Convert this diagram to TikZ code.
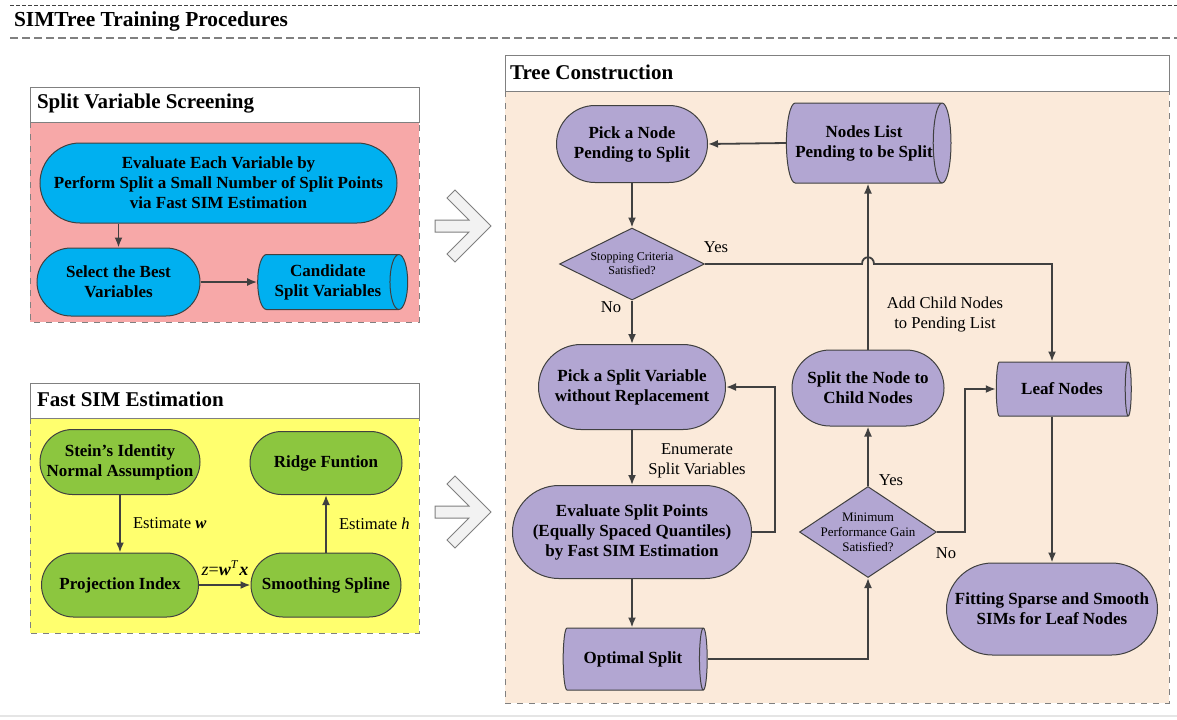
\documentclass[tikz,border=0pt]{standalone}
\usepackage{fontspec}
\setmainfont{Liberation Serif}
\usetikzlibrary{shapes.geometric,shapes.misc,arrows.meta}
\definecolor{pinkbg}{RGB}{247,168,168}
\definecolor{yellowbg}{RGB}{255,255,110}
\definecolor{peachbg}{RGB}{251,234,218}
\definecolor{cyanfill}{RGB}{0,176,240}
\definecolor{greenfill}{RGB}{140,198,63}
\definecolor{lavfill}{RGB}{178,166,210}
\definecolor{linegray}{RGB}{64,64,64}
\tikzset{
  box/.style={draw=linegray,line width=0.5pt,align=center,inner sep=0pt,
    font=\fontsize{8.5}{10}\selectfont\bfseries},
  term/.style={box,rounded rectangle},
  store/.style={box,cylinder,aspect=0.5},
  decide/.style={box,diamond,fill=lavfill,inner sep=-2pt,font=\fontsize{6}{7}\selectfont},
  lbl/.style={align=center,font=\fontsize{8.3}{10}\selectfont},
  ptitle/.style={anchor=west,font=\fontsize{10.5}{12}\selectfont\bfseries},
  link/.style={draw=linegray,line width=0.9pt},
}
\begin{document}
\begin{tikzpicture}[x=0.5pt,y=-0.5pt,>={Latex[length=5pt,width=4pt]}]
\useasboundingbox (0,0) rectangle (1177,719);
% heading
\draw[linegray,line width=0.4pt,dash pattern=on 2pt off 1pt] (10,5) -- (1177,5);
\node[anchor=west,font=\fontsize{10.7}{12}\selectfont\bfseries] (maintitle) at (7,21) {SIMTree Training Procedures};
\draw[gray,line width=0.7pt,dash pattern=on 4pt off 2pt] (10,38) -- (1177,38);
\draw[gray!20,line width=1pt] (0,716) -- (1177,716);
% panels
\fill[pinkbg] (30,122) rectangle (419,322);
\draw[gray,line width=0.5pt,dashed] (30,122) rectangle (419,322);
\draw[gray,line width=0.5pt,fill=white] (30,87) rectangle (419,122);
\node[ptitle] (svs) at (30,104) {Split Variable Screening};
\fill[yellowbg] (30,418) rectangle (419,633);
\draw[gray,line width=0.5pt,dashed] (30,418) rectangle (419,633);
\draw[gray,line width=0.5pt,fill=white] (30,383) rectangle (419,418);
\node[ptitle] (fse) at (30,399) {Fast SIM Estimation};
\fill[peachbg] (505,91) rectangle (1169,703);
\draw[gray,line width=0.5pt,dashed] (505,91) rectangle (1169,703);
\draw[gray,line width=0.5pt,fill=white] (505,55) rectangle (1169,91);
\node[ptitle] (tc) at (503,72) {Tree Construction};
% big arrows
\foreach \c in {226,512}
  \draw[gray,line width=0.5pt,fill=gray!10] (435,\c) ++(0,-6) -- ++(34,0) -- ++(-22,-22) -- ++(8,-8)
    -- ++(36,36) -- ++(-36,36) -- ++(-8,-8) -- ++(22,-22) -- ++(-34,0) -- cycle;
% split variable screening
\node[term,fill=cyanfill,minimum width=178.5pt,minimum height=40pt] (evalvar) at (218.5,183)
  {Evaluate Each Variable by\\Perform Split a Small Number of Split Points\\via Fast SIM Estimation};
\node[term,fill=cyanfill,minimum width=81.5pt,minimum height=34pt] (best) at (118.5,282) {Select the Best\\Variables};
\node[store,fill=cyanfill,minimum height=75pt,minimum width=27.5pt] (cand) at (328,282) {Candidate\\Split Variables};
\draw[link,->] (evalvar.south -| best.north) -- (best.north);
\draw[link,->] (best.east) -- (cand.west);
% fast SIM estimation
\node[term,fill=greenfill,minimum width=80pt,minimum height=32.5pt] (stein) at (120,462) {Stein's Identity\\Normal Assumption};
\node[term,fill=greenfill,minimum width=76pt,minimum height=31.5pt] (ridge) at (326,463) {Ridge Funtion};
\node[term,fill=greenfill,minimum width=78.5pt,minimum height=32pt] (proj) at (120,585) {Projection Index};
\node[term,fill=greenfill,minimum width=75pt,minimum height=32pt] (smooth) at (326,585) {Smoothing Spline};
\draw[link,->] (stein.south) -- (proj.north);
\draw[link,->] (smooth.north) -- (ridge.south);
\draw[link,->] (proj.east) -- (smooth.west);
\node[lbl,anchor=west] (estw) at (126,523) {Estimate \textbf{\textit{w}}};
\node[lbl,anchor=west] (esth) at (332,524) {Estimate \textit{h}};
\node[lbl,font=\fontsize{9}{10}\selectfont] (zwx) at (225,568) {\textit{z}=\textbf{\textit{w}}\textsuperscript{\textit{T}}\textbf{\textit{x}}};
% tree construction
\node[term,fill=lavfill,minimum width=75.5pt,minimum height=38.5pt] (picknode) at (632,144) {Pick a Node\\Pending to Split};
\node[store,fill=lavfill,minimum height=81pt,minimum width=40pt] (pendlist) at (864,143) {Nodes List\\Pending to be Split};
\node[decide,aspect=2,minimum width=72.5pt,minimum height=36pt] (stop) at (632,264) {Stopping Criteria\\Satisfied?};
\node[term,fill=lavfill,minimum width=93.5pt,minimum height=42.5pt] (pickvar) at (632,387) {Pick a Split Variable\\without Replacement};
\node[term,fill=lavfill,minimum width=119.5pt,minimum height=46.5pt] (evalsplit) at (632,532) {Evaluate Split Points\\(Equally Spaced Quantiles)\\by Fast SIM Estimation};
\node[store,fill=lavfill,minimum height=72pt,minimum width=31pt] (optsplit) at (633,659) {Optimal Split};
\node[decide,aspect=1.5,inner sep=-3pt,font=\fontsize{6.5}{7.5}\selectfont,minimum width=68.5pt,minimum height=45.5pt] (mingain) at (868,532) {Minimum\\Performance Gain\\Satisfied?};
\node[term,fill=lavfill,minimum width=76pt,minimum height=38pt] (splitnode) at (868,388) {Split the Node to\\Child Nodes};
\node[store,fill=lavfill,minimum height=67.5pt,minimum width=27pt] (leaf) at (1062,389) {Leaf Nodes};
\node[term,fill=lavfill,minimum width=105.5pt,minimum height=46pt] (fitting) at (1052,609) {Fitting Sparse and Smooth\\SIMs for Leaf Nodes};
\draw[link,->] (pendlist.west) -- (picknode.east);
\draw[link,->] (picknode.south) -- (stop.north);
\draw[link,->] (stop.south) -- (pickvar.north);
\draw[link,->] (pickvar.south) -- (evalsplit.north);
\draw[link,->] (evalsplit.east) -- ++(23,0) |- (pickvar.east);
\draw[link,->] (evalsplit.south) -- (evalsplit.south |- optsplit.north);
\draw[link,->] (optsplit.east) -| (mingain.south);
\draw[link,->] (mingain.north) -- (splitnode.south);
\draw[link,->] (splitnode.north) -- (splitnode.north |- pendlist.south);
\draw[link,->] (mingain.east) -- ++(28,0) |- (leaf.west);
\draw[link,->] (stop.east) -- (862,264) .. controls (862,255) and (874,255) .. (874,264) -| (fitting.north |- leaf.north);
\draw[link,->] (leaf.south -| fitting.north) -- (fitting.north);
\node[lbl] (yes1) at (716,247) {Yes};
\node[lbl] (no1) at (611,307) {No};
\node[lbl] (enum) at (697,461) {Enumerate\\Split Variables};
\node[lbl] (addchild) at (945,315) {Add Child Nodes\\to Pending List};
\node[lbl] (yes2) at (891,480) {Yes};
\node[lbl] (no2) at (946,553) {No};
\end{tikzpicture}
\end{document}
